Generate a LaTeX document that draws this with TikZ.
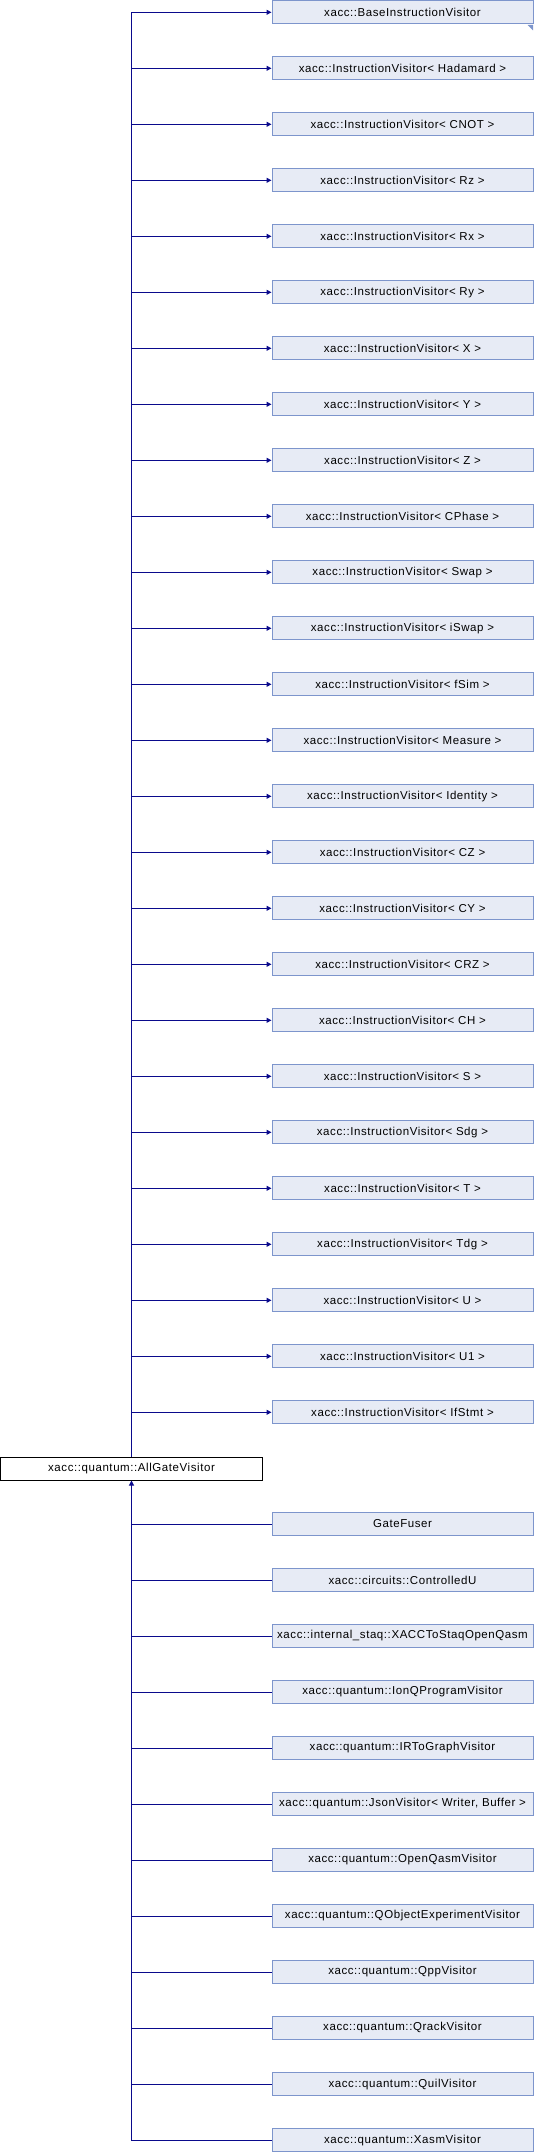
\documentclass[tikz,border=0pt]{standalone}
\usepackage{fontspec}
\setmainfont{Liberation Sans}
\newfontfamily\dfont[LetterSpace=5]{Liberation Sans}
\usetikzlibrary{arrows.meta}
\definecolor{edgec}{HTML}{0A0A8C}
\definecolor{boxfill}{HTML}{E7EBF5}
\definecolor{boxline}{HTML}{7D95CC}
\begin{document}
\begin{tikzpicture}[x=1pt,y=-1pt,
  cls/.style={draw=boxline, fill=boxfill, line width=1pt, minimum width=261pt, minimum height=23pt, inner sep=0pt, font=\dfont\fontsize{11.5}{13}\selectfont},
  cur/.style={draw=black, fill=white, line width=1pt, minimum width=262pt, minimum height=23pt, inner sep=0pt, font=\dfont\fontsize{11.5}{13}\selectfont},
  edge/.style={draw=edgec, line width=1pt},
  tip/.style={-{Triangle[length=5pt,width=5pt]}}]
\useasboundingbox (0,0) rectangle (534,2152);
\node[cur] (ag) at (131.5,1468.5) {xacc::quantum::AllGateVisitor};
\foreach \n [count=\i from 0] in {xacc::BaseInstructionVisitor,
  xacc::InstructionVisitor< Hadamard >, xacc::InstructionVisitor< CNOT >,
  xacc::InstructionVisitor< Rz >, xacc::InstructionVisitor< Rx >,
  xacc::InstructionVisitor< Ry >, xacc::InstructionVisitor< X >,
  xacc::InstructionVisitor< Y >, xacc::InstructionVisitor< Z >,
  xacc::InstructionVisitor< CPhase >, xacc::InstructionVisitor< Swap >,
  xacc::InstructionVisitor< iSwap >, xacc::InstructionVisitor< fSim >,
  xacc::InstructionVisitor< Measure >, xacc::InstructionVisitor< Identity >,
  xacc::InstructionVisitor< CZ >, xacc::InstructionVisitor< CY >,
  xacc::InstructionVisitor< CRZ >, xacc::InstructionVisitor< CH >,
  xacc::InstructionVisitor< S >, xacc::InstructionVisitor< Sdg >,
  xacc::InstructionVisitor< T >, xacc::InstructionVisitor< Tdg >,
  xacc::InstructionVisitor< U >, xacc::InstructionVisitor< U1 >,
  xacc::InstructionVisitor< IfStmt >} {
  \node[cls] (t\i) at (402.5,12.3+56*\i) {\n};
  \draw[edge,tip] (ag.north) |- (t\i.west);
}
\fill[boxline] ([xshift=-6pt,yshift=-0.5pt]t0.south east) -- ([xshift=-0.5pt,yshift=-0.5pt]t0.south east) -- ([xshift=-0.5pt,yshift=-6pt]t0.south east) -- cycle;
\foreach \n [count=\j from 0] in {GateFuser, xacc::circuits::ControlledU,
  xacc::internal\_staq::XACCToStaqOpenQasm, xacc::quantum::IonQProgramVisitor,
  xacc::quantum::IRToGraphVisitor, {xacc::quantum::JsonVisitor< Writer, Buffer >},
  xacc::quantum::OpenQasmVisitor, xacc::quantum::QObjectExperimentVisitor,
  xacc::quantum::QppVisitor, xacc::quantum::QrackVisitor,
  xacc::quantum::QuilVisitor, xacc::quantum::XasmVisitor} {
  \node[cls] (b\j) at (402.5,1524+56*\j) {\n};
  \draw[edge] (b\j.west) -| (ag.south);
}
\draw[edge,tip] (b0.west) -| (ag.south);
\end{tikzpicture}
\end{document}
